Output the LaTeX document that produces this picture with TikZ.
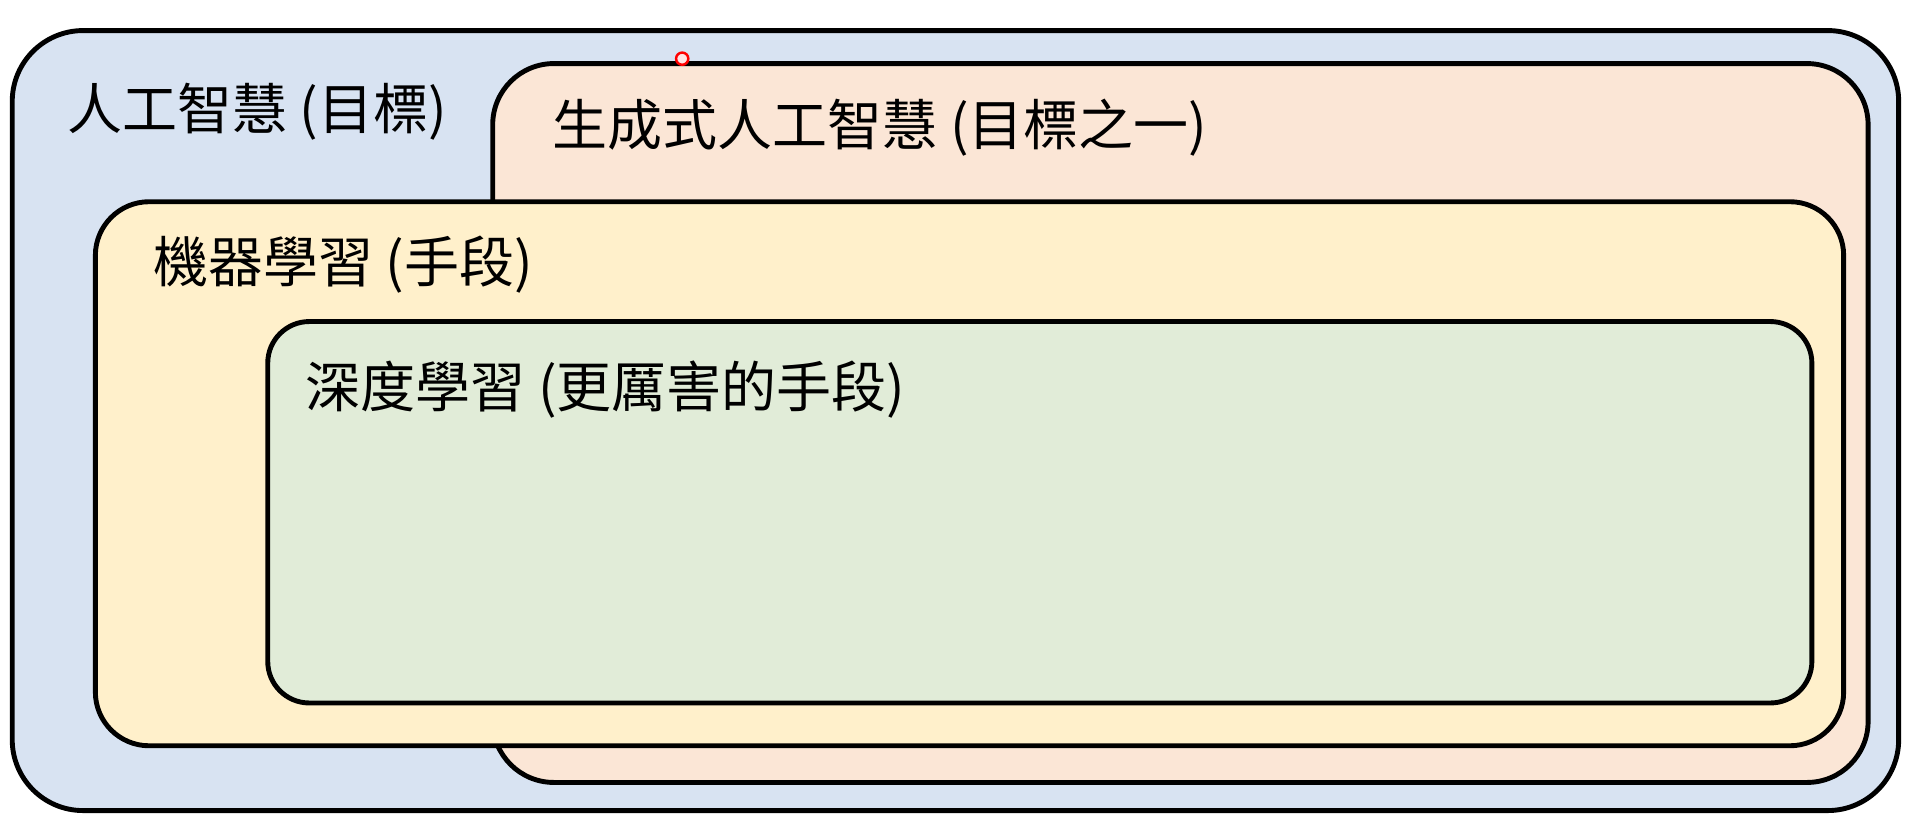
\documentclass[tikz,border=0pt]{standalone}
\usepackage{fontspec}
\setmainfont{Noto Sans CJK TC}
\usepackage{tikz}
\usetikzlibrary{positioning}
\definecolor{aiblue}{HTML}{D8E3F2}
\definecolor{genorange}{HTML}{FBE6D6}
\definecolor{mlyellow}{HTML}{FFF0CB}
\definecolor{dlgreen}{HTML}{E1ECD8}

\begin{document}
\begin{tikzpicture}[
        x=1pt, y=-1pt,
        box/.style={draw, line width=4pt, rectangle, inner sep=0pt, outer sep=0pt, anchor=north west},
        boxtitle/.style={inner sep=0pt, font=\fontsize{45}{54}\selectfont}
    ]
        \useasboundingbox (0,0) rectangle (1568,684);
        \node[box, rounded corners=58pt, fill=aiblue, minimum width=1543pt, minimum height=638pt] (ai) at (10,25) {};
        \node[box, rounded corners=50pt, fill=genorange, minimum width=1125pt, minimum height=588pt] (genai) at (403,52) {};
        \node[box, rounded corners=44pt, fill=mlyellow, minimum width=1430pt, minimum height=445pt] (ml) at (78,165) {};
        \node[box, rounded corners=34pt, fill=dlgreen, minimum width=1263pt, minimum height=312pt] (dl) at (219,263) {};

        \node[boxtitle, below right=43pt and 45pt of ai.north west] (aititle) {人工智慧 (目標)};
        \node[boxtitle, below right=29pt and 49pt of genai.north west] (genaititle) {生成式人工智慧 (目標之一)};
        \node[boxtitle, below right=28pt and 47pt of ml.north west] (mltitle) {機器學習 (手段)};
        \node[boxtitle, below right=32pt and 31pt of dl.north west] (dltitle) {深度學習 (更厲害的手段)};

        \node[circle, draw=red, line width=2pt, fill=red!10, inner sep=0pt, minimum size=10pt] (pointer) at (558,48) {};
    \end{tikzpicture}
\end{document}
